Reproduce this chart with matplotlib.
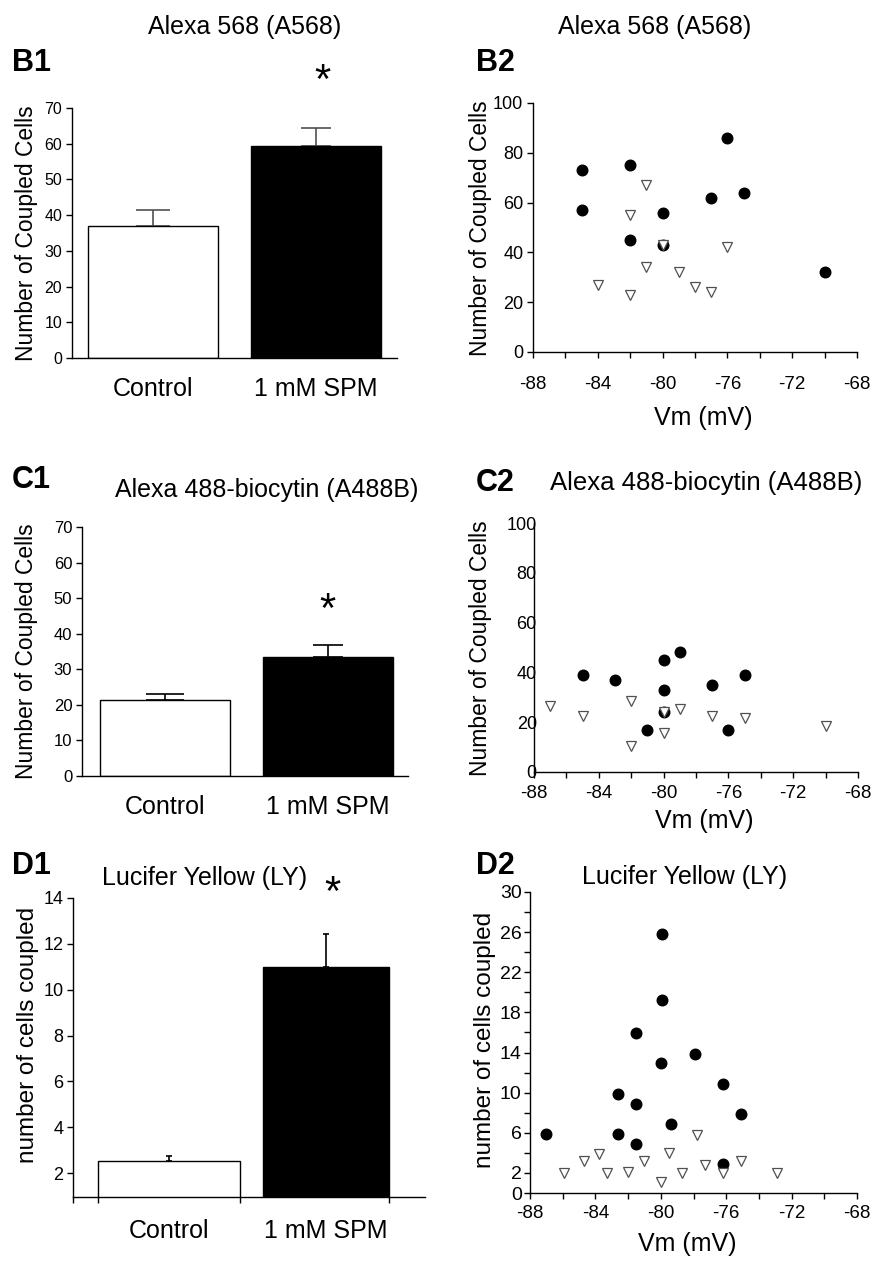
import numpy as np
import matplotlib
matplotlib.use("Agg")
import matplotlib.pyplot as plt

plt.rcParams['font.family'] = ['Liberation Sans', 'DejaVu Sans']
plt.rcParams['axes.unicode_minus'] = False

# bar data (mean, sem)
groups = ['Control', '1 mM SPM']
b1_mean = [37.0, 59.3]
b1_sem = [4.5, 5.0]
c1_mean = [21.5, 33.4]
c1_sem = [1.6, 3.3]
d1_mean = [2.55, 11.0]
d1_sem = [0.2, 1.45]

# scatter data: Vm (mV) vs coupled cells
b2_spm_vm = [-85, -85, -82, -82, -80, -80, -77, -76, -75, -70]
b2_spm_n = [73, 57, 75, 45, 56, 43, 62, 86, 64, 32]
b2_ctl_vm = [-84, -82, -82, -81, -81, -80, -79, -78, -77, -76]
b2_ctl_n = [27, 55, 23, 67, 34, 43, 32, 26, 24, 42]

c2_spm_vm = [-85, -83, -81, -80, -80, -80, -79, -77, -76, -75]
c2_spm_n = [39, 37, 17, 45, 33, 24, 48, 35, 17, 39]
c2_ctl_vm = [-87, -85, -82, -82, -80, -80, -79, -77, -75, -70]
c2_ctl_n = [26.5, 22.5, 28.5, 10.5, 24, 15.7, 25.5, 22.5, 21.5, 18.5]

d2_spm_vm = [-87, -82.6, -82.6, -81.5, -81.5, -81.5, -79.9, -79.9, -80.0, -79.4, -77.9, -76.2, -75.1, -76.2]
d2_spm_n = [5.9, 9.9, 5.9, 15.9, 8.9, 4.9, 25.8, 19.2, 13.0, 6.9, 13.9, 10.9, 7.9, 2.9]
d2_ctl_vm = [-85.9, -84.7, -83.8, -83.3, -82.0, -81.0, -80.0, -79.5, -78.7, -77.8, -77.3, -76.2, -75.1, -72.9]
d2_ctl_n = [2.0, 3.2, 3.9, 2.0, 2.1, 3.2, 1.1, 4.0, 2.0, 5.8, 2.8, 2.0, 3.2, 2.0]

W, H = 878, 1264
fig = plt.figure(figsize=(W / 100, H / 100), dpi=100)


def box(l, t, r, b):
    return [l / W, 1 - b / H, (r - l) / W, (b - t) / H]


def ftext(x, y, s, **kw):
    fig.text(x / W, 1 - y / H, s, **kw)


def clean(ax):
    ax.spines['top'].set_visible(False)
    ax.spines['right'].set_visible(False)
    for s in ['left', 'bottom']:
        ax.spines[s].set_linewidth(1.0)


def bar_panel(rect, mean, sem, ylim, yticks, widths, xlim, ecol, caps, tick_fs, xpad=14):
    ax = fig.add_axes(rect)
    x = np.arange(len(groups))
    ax.bar(x, mean, width=widths, color=['white', 'black'], edgecolor='black', linewidth=1.0, zorder=2)
    for i in range(len(x)):
        ax.errorbar(x[i], mean[i], yerr=[[0], [sem[i]]], fmt='none', ecolor=ecol[i],
                    elinewidth=1.2, capsize=caps[i], capthick=1.2, zorder=1)
    ax.set_xlim(*xlim)
    ax.set_ylim(*ylim)
    ax.set_yticks(yticks)
    ax.set_xticks(x)
    ax.set_xticklabels(groups, fontsize=18)
    ax.tick_params(axis='x', length=0, pad=xpad)
    ax.tick_params(axis='y', length=4, width=1, labelsize=tick_fs, pad=3)
    clean(ax)
    return ax


# B1
ax = bar_panel(box(72, 108, 397, 358), b1_mean, b1_sem, (0, 70), range(0, 71, 10),
               0.8, (-0.5, 1.5), ['#505050', '#505050'], [12.5, 11], 11.5)
ftext(322, 82, '*', fontsize=30, ha='center', va='center')
ftext(245, 27, 'Alexa 568 (A568)', fontsize=18, ha='center', va='center')
ftext(12, 63, 'B1', fontsize=22, fontweight='bold', ha='left', va='center')
ftext(27, 233, 'Number of Coupled Cells', fontsize=16.5, rotation=90, ha='center', va='center')

# C1
ax = bar_panel(box(82, 527, 408, 776), c1_mean, c1_sem, (0, 70), range(0, 71, 10),
               0.8, (-0.51, 1.49), ['black', 'black'], [13.5, 11], 12)
ftext(327, 611, '*', fontsize=30, ha='center', va='center')
ftext(267, 490, 'Alexa 488-biocytin (A488B)', fontsize=18, ha='center', va='center')
ftext(12, 480, 'C1', fontsize=22, fontweight='bold', ha='left', va='center')
ftext(27, 651, 'Number of Coupled Cells', fontsize=16.5, rotation=90, ha='center', va='center')

# D1
ax = bar_panel(box(73, 898, 425, 1197), d1_mean, d1_sem, (0.96, 14), range(2, 15, 2),
               [0.9, 0.8], (-0.61, 1.63), ['black', 'black'], [2, 2], 13, xpad=16)
ax.set_xticks([-0.61, -0.45, 0.45, 1.4], minor=True)
ax.tick_params(axis='x', which='minor', length=4, width=1)
ftext(332, 894, '*', fontsize=30, ha='center', va='center')
ftext(205, 878, 'Lucifer Yellow (LY)', fontsize=18, ha='center', va='center')
ftext(12, 866, 'D1', fontsize=22, fontweight='bold', ha='left', va='center')
ftext(28, 1035, 'number of cells coupled', fontsize=17.5, rotation=90, ha='center', va='center')


def scatter_panel(rect, spm_vm, spm_n, ctl_vm, ctl_n, ylim, yticks, ylabels, ytick_fs, ylen, ypad, xpad):
    ax = fig.add_axes(rect)
    ax.plot(spm_vm, spm_n, 'o', color='black', markersize=7.6, zorder=2, clip_on=False)
    ax.plot(ctl_vm, ctl_n, 'v', markerfacecolor='white', markeredgecolor='#505050',
            markeredgewidth=0.9, markersize=7.8, zorder=3, clip_on=False)
    ax.set_xlim(-88, -68)
    ax.set_ylim(*ylim)
    ax.set_xticks(range(-88, -67, 4))
    ax.set_xticks(range(-88, -67, 2), minor=True)
    ax.set_yticks(yticks)
    ax.set_yticklabels(ylabels)
    ax.tick_params(axis='x', which='both', length=4, width=1, labelsize=13.5, pad=xpad)
    ax.tick_params(axis='y', length=ylen, width=1, labelsize=ytick_fs, pad=ypad)
    clean(ax)
    return ax


# B2
scatter_panel(box(533, 103, 857, 352), b2_spm_vm, b2_spm_n, b2_ctl_vm, b2_ctl_n,
              (0, 100), range(0, 101, 20), [str(v) for v in range(0, 101, 20)], 13, 4, 3, 13)
ftext(655, 27, 'Alexa 568 (A568)', fontsize=18, ha='center', va='center')
ftext(476, 63, 'B2', fontsize=22, fontweight='bold', ha='left', va='center')
ftext(481, 228, 'Number of Coupled Cells', fontsize=16.5, rotation=90, ha='center', va='center')
ftext(703, 418, 'Vm (mV)', fontsize=18, ha='center', va='center')

# C2
scatter_panel(box(534, 523, 858, 772), c2_spm_vm, c2_spm_n, c2_ctl_vm, c2_ctl_n,
              (0, 100), range(0, 101, 20), [str(v) for v in range(0, 101, 20)], 13, 0, -2, 5)
ftext(550, 483, 'Alexa 488-biocytin (A488B)', fontsize=18.5, ha='left', va='center')
ftext(476, 483, 'C2', fontsize=22, fontweight='bold', ha='left', va='center')
ftext(481, 648, 'Number of Coupled Cells', fontsize=16.5, rotation=90, ha='center', va='center')
ftext(704, 821, 'Vm (mV)', fontsize=18, ha='center', va='center')

# D2
d2_ticks = list(range(0, 31, 2))
d2_labels = [str(v) if v in (0, 2, 6, 10, 14, 18, 22, 26, 30) else '' for v in d2_ticks]
scatter_panel(box(530, 892, 857, 1193), d2_spm_vm, d2_spm_n, d2_ctl_vm, d2_ctl_n,
              (0, 30), d2_ticks, d2_labels, 14, 4, 2, 5)
ftext(685, 877, 'Lucifer Yellow (LY)', fontsize=18, ha='center', va='center')
ftext(476, 866, 'D2', fontsize=22, fontweight='bold', ha='left', va='center')
ftext(485, 1040, 'number of cells coupled', fontsize=17.5, rotation=90, ha='center', va='center')
ftext(687, 1244, 'Vm (mV)', fontsize=18, ha='center', va='center')

plt.savefig('out.png', dpi=100)
plt.close()
